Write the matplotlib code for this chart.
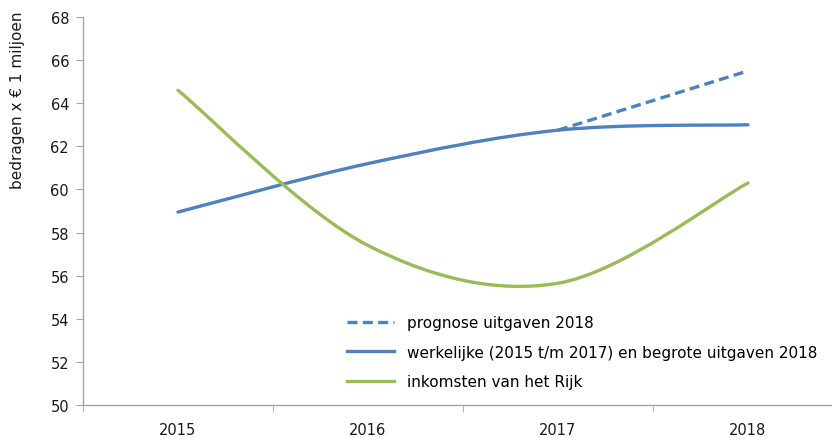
import numpy as np
import matplotlib
matplotlib.use('Agg')
import matplotlib.pyplot as plt
from matplotlib.path import Path
from matplotlib.patches import PathPatch
from matplotlib.lines import Line2D

# data
years = ['2015', '2016', '2017', '2018']
werkelijk = [58.95, 61.2, 62.75, 63.0]
prognose = [np.nan, np.nan, 62.75, 65.5]
inkomsten = [64.6, 57.4, 55.65, 60.3]

blue = '#4F81BD'
green = '#9BBB59'
axis_col = '#A6A6A6'


def smooth_path(xs, ys):
    """Excel-like smoothed line: bezier segments with catmull-rom control points"""
    pts = [(x, y) for x, y in zip(xs, ys) if not np.isnan(y)]
    pts = np.array(pts, dtype=float)
    n = len(pts)
    verts = [tuple(pts[0])]
    codes = [Path.MOVETO]
    for i in range(n - 1):
        p0 = pts[max(i - 1, 0)]
        p1 = pts[i]
        p2 = pts[i + 1]
        p3 = pts[min(i + 2, n - 1)]
        c1 = p1 + (p2 - p0) / 6.0
        c2 = p2 - (p3 - p1) / 6.0
        verts += [tuple(c1), tuple(c2), tuple(p2)]
        codes += [Path.CURVE4] * 3
    return Path(verts, codes)


fig = plt.figure(figsize=(8.32, 4.39), dpi=100)
ax = fig.add_axes([83 / 832, 33 / 439, 760 / 832, 388 / 439])

x = np.arange(len(years))
ax.add_patch(PathPatch(smooth_path(x, werkelijk), fill=False, edgecolor=blue,
                       lw=2.4, capstyle='round'))
ax.add_patch(PathPatch(smooth_path(x, prognose), fill=False, edgecolor=blue,
                       lw=2.4, linestyle=(0, (3, 1.6))))
ax.add_patch(PathPatch(smooth_path(x, inkomsten), fill=False, edgecolor=green,
                       lw=2.4, capstyle='round'))

ax.set_xlim(-0.5, 3.5)
ax.set_ylim(50, 68)
ax.set_yticks(np.arange(50, 69, 2))
ax.set_xticks(x)
ax.set_xticklabels(years)
ax.set_xticks(np.arange(-0.5, 3.6, 1), minor=True)
ax.tick_params(axis='x', which='major', length=0, pad=12, labelsize=10.5, labelcolor='#1a1a1a')
ax.tick_params(axis='x', which='minor', length=5, color=axis_col, direction='out')
ax.tick_params(axis='y', length=5, color=axis_col, direction='out', labelsize=10.5,
               labelcolor='#1a1a1a', pad=5)

for s in ['top', 'right']:
    ax.spines[s].set_visible(False)
for s in ['left', 'bottom']:
    ax.spines[s].set_color(axis_col)
    ax.spines[s].set_linewidth(1.0)

fig.text(18 / 832, 1 - 100 / 439, 'bedragen x € 1 miljoen', rotation=90,
         ha='center', va='center', fontsize=11, color='#1a1a1a')

handles = [Line2D([], [], color=blue, lw=2.4, linestyle=(0, (3, 1.6))),
           Line2D([], [], color=blue, lw=2.4),
           Line2D([], [], color=green, lw=2.4)]
labels = ['prognose uitgaven 2018',
          'werkelijke (2015 t/m 2017) en begrote uitgaven 2018',
          'inkomsten van het Rijk']
leg = ax.legend(handles, labels, loc='upper left', bbox_to_anchor=(344 / 832, 1 - 313 / 439),
                bbox_transform=fig.transFigure, frameon=False, fontsize=11,
                handlelength=3.1, handletextpad=0.8, labelspacing=0.95, borderaxespad=0,
                borderpad=0.2)

fig.savefig('out.png', dpi=100)
